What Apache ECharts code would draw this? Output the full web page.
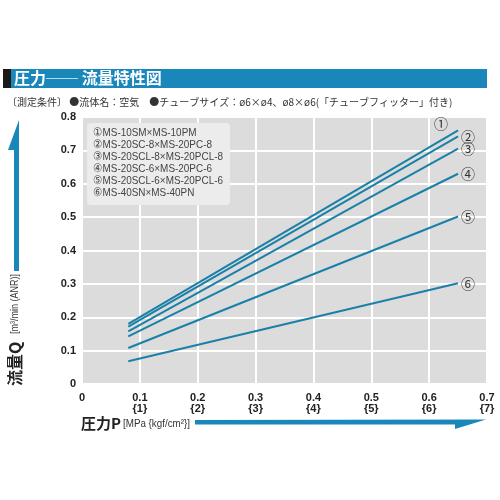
<!DOCTYPE html>
<html>
<head>
<meta charset="utf-8">
<script src="https://cdn.jsdelivr.net/npm/echarts@6/dist/echarts.min.js"></script>
<style>html,body{margin:0;padding:0;background:#fff;}#c{width:500px;height:500px;}</style>
</head>
<body>
<div id="c"></div>
<script>
// ---- data ----
var seriesNames = ['①', '②', '③', '④', '⑤', '⑥'];
var legendLabels = [
  '①MS-10SM×MS-10PM',
  '②MS-20SC-8×MS-20PC-8',
  '③MS-20SCL-8×MS-20PCL-8',
  '④MS-20SC-6×MS-20PC-6',
  '⑤MS-20SCL-6×MS-20PCL-6',
  '⑥MS-40SN×MS-40PN'
];
var pressure = [0.08, 0.65];
var flow1 = [0.180, 0.760];
var flow2 = [0.172, 0.742];
var flow3 = [0.158, 0.705];
var flow4 = [0.143, 0.630];
var flow5 = [0.108, 0.502];
var flow6 = [0.068, 0.302];
var xTickLabels = ['0', '0.1\n{1}', '0.2\n{2}', '0.3\n{3}', '0.4\n{4}', '0.5\n{5}', '0.6\n{6}', '0.7\n{7}'];
var yTickLabels = ['0', '0.1', '0.2', '0.3', '0.4', '0.5', '0.6', '0.7', '0.8'];

var flows = [flow1, flow2, flow3, flow4, flow5, flow6];
var lineColor = '#1a80a8';
var jp = '"Noto Sans CJK JP", sans-serif';
var sans = '"Liberation Sans", Arial, sans-serif';

// horizontal squeeze so that a text spans a target width (mimics a condensed face)
function squeeze(text, font, target) {
  var c = document.createElement('canvas').getContext('2d');
  c.font = font;
  var w = c.measureText(text).width;
  return Math.min(1, target / w);
}
var legendFont = '11.5px ' + sans;
var legendScale = squeeze(legendLabels[2], legendFont, 130);
var unitFont = '10.5px ' + sans;
var xUnitScale = squeeze('[MPa {kgf/cm²}]', unitFont, 67);
var yUnitScale = squeeze('[m³/min (ANR)]', unitFont, 60);

var series = flows.map(function (f, i) {
  return {
    name: seriesNames[i],
    type: 'line',
    data: pressure.map(function (p, j) { return [p, f[j]]; }),
    symbol: 'none',
    lineStyle: { color: lineColor, width: 2 },
    silent: true,
    endLabel: {
      show: true,
      formatter: seriesNames[i],
      color: '#333',
      fontSize: 14,
      fontFamily: jp,
      distance: 3,
      offset: i === 0 ? [-27, -7] : [0, 0]
    },
    z: 5
  };
});

var legendGraphics = legendLabels.map(function (t, i) {
  return {
    type: 'text',
    x: 93,
    y: 133 + i * 12,
    scaleX: legendScale,
    style: { text: t, fill: '#444', font: legendFont, align: 'left', verticalAlign: 'middle' },
    z: 20
  };
});

var chart = echarts.init(document.getElementById('c'), null, { renderer: 'canvas' });
chart.setOption({
  backgroundColor: '#fff',
  animation: false,
  grid: { left: 82, right: 13, top: 117, bottom: 116, show: true, backgroundColor: '#dcdcdc', borderWidth: 0 },
  xAxis: {
    type: 'value', min: 0, max: 0.7, interval: 0.1,
    axisLine: { show: false }, axisTick: { show: false },
    splitLine: { show: true, lineStyle: { color: '#ffffff', width: 2 } },
    axisLabel: {
      margin: 8, color: '#222', fontSize: 11, fontWeight: 'bold', fontFamily: sans, lineHeight: 11,
      verticalAlign: 'top',
      formatter: function (v) { return xTickLabels[Math.round(v * 10)]; }
    }
  },
  yAxis: {
    type: 'value', min: 0, max: 0.8, interval: 0.1,
    axisLine: { show: false }, axisTick: { show: false },
    splitLine: { show: true, lineStyle: { color: '#ffffff', width: 2 } },
    axisLabel: {
      margin: 6, color: '#222', fontSize: 11, fontWeight: 'bold', fontFamily: sans,
      formatter: function (v) { return yTickLabels[Math.round(v * 10)]; }
    }
  },
  series: series,
  graphic: [
    // title bar
    { type: 'rect', shape: { x: 3, y: 69, width: 8, height: 19 }, style: { fill: '#1a1a1a' } },
    { type: 'rect', shape: { x: 11, y: 69, width: 476, height: 19 }, style: { fill: '#1a87bb' } },
    { type: 'text', left: 14, top: 70, style: { text: '圧力── 流量特性図', fill: '#fff', font: 'bold 16px ' + jp } },
    // conditions
    { type: 'text', left: 7, top: 97, style: { text: '〔測定条件〕 ●流体名：空気　●チューブサイズ：ø6×ø4、ø8×ø6(「チューブフィッター」付き)', fill: '#333', font: '10px ' + jp } },
    // legend box
    { type: 'rect', shape: { x: 87, y: 123, width: 143, height: 82, r: 4 }, style: { fill: '#ececec' }, z: 15 }
  ].concat(legendGraphics).concat([
    // y axis arrow
    { type: 'polygon', shape: { points: [[19, 120], [19, 271], [14, 271], [14, 150], [8, 150]] }, style: { fill: '#1a87bb' } },
    // y axis name
    {
      type: 'text', x: 15, y: 386, rotation: Math.PI / 2,
      style: { text: '流量Q', font: 'bold 16px ' + jp, fill: '#222', align: 'left', verticalAlign: 'middle' }
    },
    {
      type: 'text', x: 15.5, y: 334, rotation: Math.PI / 2, scaleX: yUnitScale,
      style: { text: '[m³/min (ANR)]', font: unitFont, fill: '#333', align: 'left', verticalAlign: 'middle' }
    },
    // x axis arrow
    { type: 'polygon', shape: { points: [[195, 420], [486, 419.5], [455, 429], [455, 424.5], [195, 424.5]] }, style: { fill: '#1a87bb' } },
    // x axis name
    {
      type: 'text', x: 81, y: 423,
      style: { text: '圧力P', font: 'bold 15px ' + jp, fill: '#222', align: 'left', verticalAlign: 'middle' }
    },
    {
      type: 'text', x: 123, y: 424.5, scaleX: xUnitScale,
      style: { text: '[MPa {kgf/cm²}]', font: unitFont, fill: '#333', align: 'left', verticalAlign: 'middle' }
    }
  ])
});
</script>
</body>
</html>
